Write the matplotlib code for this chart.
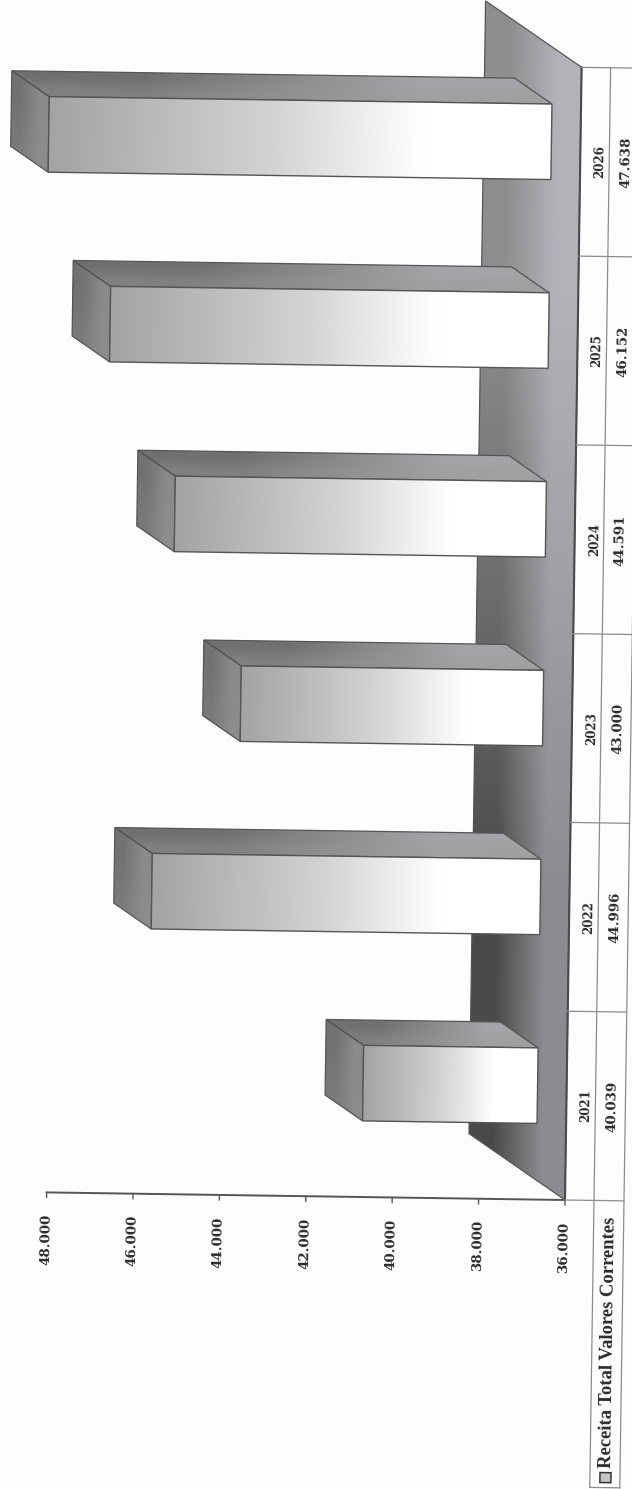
import numpy as np
import matplotlib
matplotlib.use('Agg')
import matplotlib.pyplot as plt
from matplotlib.colors import to_rgb
from matplotlib.patches import Polygon
from matplotlib.transforms import Affine2D

years = ['2021', '2022', '2023', '2024', '2025', '2026']
values = [40.039, 44.996, 43.000, 44.591, 46.152, 47.638]
value_labels = ['40.039', '44.996', '43.000', '44.591', '46.152', '47.638']
ticks = [36, 38, 40, 42, 44, 46, 48]
tick_labels = ['36.000', '38.000', '40.000', '42.000', '44.000', '46.000', '48.000']
legend_label = 'Receita Total Valores Correntes'

BASE = 36
PX_V = 43.2    # pixels per thousand
PX_C = 188.8   # pixels per category
AXIS_Y = 1200  # pixel row of the value axis
DEPTH_V = 97 / PX_V
DEPTH_C = 65 / PX_C
SERIF = 'Liberation Serif'
NUM_FONT = 'DejaVu Serif'
TEXT_COLOR = '#2b2b2b'
TILT = -0.84   # the page was scanned slightly crooked

fig = plt.figure(figsize=(6.32, 14.89), dpi=100, facecolor='#fdfdfd')
ax = fig.add_axes([0, 0, 1, 1])
ax.axis('off')
xlim = (BASE + 565 / PX_V, BASE - 67 / PX_V)
ylim = (-0.5 - (1489 - AXIS_Y) / PX_C, -0.5 + AXIS_Y / PX_C)

# pivot on the axis origin, in display pixels
pivot_x, pivot_y = 565, 1489 - AXIS_Y
tilt = ax.transData + Affine2D().rotate_deg_around(pivot_x, pivot_y, TILT)


def proj(v, c, d=0.0):
    return (v + d * DEPTH_V, c + d * DEPTH_C)


def off(px):
    # pixels to the right of the floor front edge, as value units
    return BASE - px / PX_V


def below(px):
    # pixels under the value axis, as category units
    return -0.5 - px / PX_C


def shade(points, rgb, zorder=1, lw=0.9):
    pts = np.array(points)
    extent = (pts[:, 0].max(), pts[:, 0].min(), pts[:, 1].min(), pts[:, 1].max())
    im = ax.imshow(rgb, extent=extent, aspect='auto', interpolation='bilinear',
                   origin='upper', transform=tilt, zorder=zorder)
    patch = Polygon(pts, closed=True, facecolor='none', edgecolor='#555555',
                    linewidth=lw, transform=tilt, zorder=zorder + 0.1)
    ax.add_patch(patch)
    im.set_clip_path(patch)


def corners(rows):
    # [[top left, top right], [bottom left, bottom right]] on screen
    return np.array([[to_rgb(c) for c in row] for row in rows])


def strip(stops, colors, n=64):
    pos = np.linspace(0, 1, n)
    rgb = np.array([to_rgb(c) for c in colors])
    line = np.stack([np.interp(pos, stops, rgb[:, k]) for k in range(3)], axis=1)
    return line[np.newaxis, :, :]


# floor
floor = [proj(BASE, -0.5), proj(BASE, -0.5, 1), proj(BASE, 5.5, 1), proj(BASE, 5.5)]
shade(floor, corners([['#8e8e8e', '#b2b2b8'], ['#4a4a4a', '#8c8c90']]), zorder=1)
ax.plot([BASE, BASE], [-0.5, 5.5], color='#4a4a4a', lw=1.5, transform=tilt, zorder=1.5)

# bars, back to front
half = 0.2
d0, d1 = 0.30, 0.69
front_strip = strip([0, 0.45, 0.75, 1], ['#a4a4a4', '#d4d4d4', '#ffffff', '#ffffff'])
for i in range(len(values) - 1, -1, -1):
    v = values[i]
    f_lo, f_hi = i - half, i + half
    side = [proj(BASE, f_hi, d0), proj(v, f_hi, d0), proj(v, f_hi, d1), proj(BASE, f_hi, d1)]
    shade(side, corners([['#707070', '#a4a4a8'], ['#808080', '#a0a0a0']]), zorder=2)
    end = [proj(v, f_lo, d0), proj(v, f_hi, d0), proj(v, f_hi, d1), proj(v, f_lo, d1)]
    shade(end, corners([['#727272', '#8a8a8a'], ['#7a7a7a', '#8c8c8c']]), zorder=2)
    front = [proj(BASE, f_lo, d0), proj(v, f_lo, d0), proj(v, f_hi, d0), proj(BASE, f_hi, d0)]
    shade(front, front_strip, zorder=3, lw=1.0)

# value axis and ticks
ax.plot([BASE, 48], [-0.5, -0.5], color='#555555', lw=1.4, transform=tilt, zorder=5)
for t, lab in zip(ticks, tick_labels):
    ax.plot([t, t], [-0.5, below(5)], color='#555555', lw=1.0, transform=tilt, zorder=5)
    ax.text(t, below(47), lab, rotation=90 + TILT, ha='center', va='center', rotation_mode='anchor',
            family=NUM_FONT, fontweight='bold', fontsize=9.6, color=TEXT_COLOR, transform=tilt, zorder=6)

# data table
table_line = '#8c8c8c'
for k in range(len(years) + 1):
    ax.plot([BASE, off(59)], [k - 0.5, k - 0.5], color=table_line, lw=0.9, transform=tilt, zorder=5)
for px in (29, 59):
    ax.plot([off(px), off(px)], [below(287), 5.5], color=table_line, lw=0.9, transform=tilt, zorder=5)
ax.plot([off(29), off(59)], [below(287)] * 2, color=table_line, lw=0.9, transform=tilt, zorder=5)
for i, (y, lab) in enumerate(zip(years, value_labels)):
    ax.text(off(20), i, y, rotation=90 + TILT, ha='center', va='center', rotation_mode='anchor',
            family=NUM_FONT, fontweight='bold', fontsize=8.6, color=TEXT_COLOR, transform=tilt, zorder=6)
    ax.text(off(46), i, lab, rotation=90 + TILT, ha='center', va='center', rotation_mode='anchor',
            family=NUM_FONT, fontweight='bold', fontsize=9.6, color=TEXT_COLOR, transform=tilt, zorder=6)

# legend cell
ax.text(off(45), below(267), legend_label, rotation=90 + TILT, ha='left', va='center',
        rotation_mode='anchor', family=SERIF, fontweight='bold', fontsize=13.4, color=TEXT_COLOR,
        transform=tilt, zorder=6)
key = [(off(39), below(282)), (off(50), below(282)), (off(50), below(272)), (off(39), below(272))]
ax.add_patch(Polygon(key, closed=True, facecolor='#c4c4c4', edgecolor='#333333', linewidth=1.1,
                     transform=tilt, zorder=6))

ax.set_xlim(*xlim)
ax.set_ylim(*ylim)
fig.savefig('out.png', dpi=100, facecolor=fig.get_facecolor())
